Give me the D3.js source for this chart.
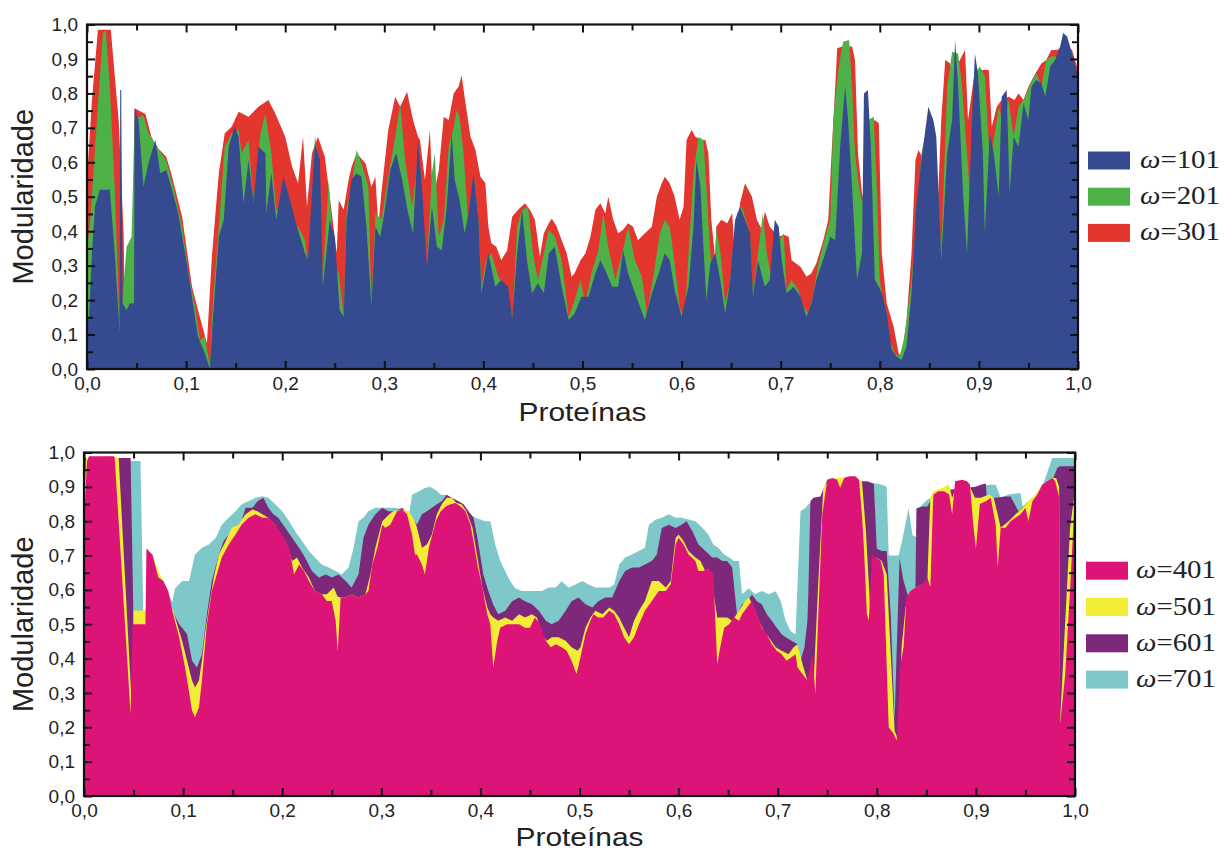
<!DOCTYPE html>
<html>
<head>
<meta charset="utf-8">
<script src="https://cdn.jsdelivr.net/npm/d3@7"></script>
<style>
  body { margin: 0; background: #fff; }
</style>
</head>
<body>
<svg id="chart" width="1225" height="852"></svg>
<script>
// axis ticks
const majorTicks = [0, 0.1, 0.2, 0.3, 0.4, 0.5, 0.6, 0.7, 0.8, 0.9, 1.0];
const minorTicks = [0.05, 0.15, 0.25, 0.35, 0.45, 0.55, 0.65, 0.75, 0.85, 0.95];

// top panel: [protein fraction, modularity]
const w101 = [[0,0.15],[0.002,0.142],[0.005,0.336],[0.008,0.471],[0.013,0.52],[0.023,0.52],[0.028,0.336],[0.033,0.104],[0.0335,0.81],[0.0345,0.81],[0.036,0.19],[0.04,0.171],[0.043,0.19],[0.0475,0.19],[0.048,0.757],[0.052,0.723],[0.057,0.529],[0.062,0.597],[0.069,0.665],[0.074,0.568],[0.08,0.578],[0.085,0.529],[0.092,0.452],[0.099,0.336],[0.106,0.21],[0.112,0.094],[0.119,0.045],[0.124,0],[0.127,0.142],[0.133,0.384],[0.138,0.433],[0.143,0.645],[0.149,0.703],[0.153,0.674],[0.158,0.481],[0.163,0.607],[0.168,0.481],[0.173,0.645],[0.18,0.626],[0.181,0.452],[0.186,0.568],[0.191,0.433],[0.198,0.558],[0.203,0.51],[0.21,0.433],[0.215,0.384],[0.22,0.336],[0.223,0.316],[0.23,0.655],[0.235,0.607],[0.238,0.239],[0.245,0.433],[0.25,0.384],[0.255,0.171],[0.259,0.152],[0.262,0.433],[0.267,0.549],[0.272,0.568],[0.277,0.558],[0.282,0.413],[0.287,0.181],[0.291,0.413],[0.296,0.384],[0.301,0.471],[0.306,0.578],[0.312,0.626],[0.318,0.549],[0.324,0.452],[0.329,0.394],[0.334,0.665],[0.338,0.529],[0.343,0.297],[0.348,0.471],[0.353,0.355],[0.358,0.345],[0.363,0.471],[0.368,0.684],[0.371,0.549],[0.376,0.49],[0.381,0.394],[0.385,0.452],[0.39,0.568],[0.395,0.433],[0.398,0.22],[0.405,0.336],[0.412,0.239],[0.418,0.258],[0.425,0.239],[0.429,0.142],[0.434,0.336],[0.439,0.462],[0.444,0.316],[0.449,0.22],[0.455,0.249],[0.461,0.22],[0.466,0.336],[0.472,0.355],[0.479,0.239],[0.486,0.142],[0.492,0.161],[0.499,0.21],[0.506,0.21],[0.513,0.278],[0.518,0.316],[0.523,0.287],[0.53,0.239],[0.536,0.239],[0.541,0.345],[0.546,0.278],[0.553,0.22],[0.563,0.142],[0.57,0.22],[0.577,0.278],[0.583,0.336],[0.588,0.316],[0.593,0.229],[0.6,0.152],[0.607,0.239],[0.612,0.413],[0.615,0.607],[0.619,0.529],[0.622,0.355],[0.625,0.2],[0.629,0.307],[0.634,0.336],[0.639,0.258],[0.644,0.161],[0.649,0.258],[0.654,0.433],[0.659,0.471],[0.664,0.433],[0.669,0.394],[0.672,0.21],[0.677,0.316],[0.684,0.239],[0.689,0.258],[0.694,0.433],[0.698,0.413],[0.701,0.316],[0.706,0.22],[0.713,0.239],[0.72,0.21],[0.726,0.152],[0.731,0.19],[0.736,0.258],[0.745,0.336],[0.75,0.384],[0.755,0.374],[0.76,0.645],[0.765,0.82],[0.768,0.723],[0.772,0.529],[0.777,0.258],[0.782,0.336],[0.784,0.8],[0.788,0.81],[0.791,0.645],[0.795,0.258],[0.799,0.239],[0.802,0.22],[0.807,0.161],[0.812,0.055],[0.817,0.036],[0.822,0.026],[0.827,0.065],[0.832,0.22],[0.837,0.481],[0.842,0.607],[0.849,0.761],[0.854,0.723],[0.857,0.674],[0.862,0.316],[0.868,0.626],[0.873,0.723],[0.876,0.955],[0.879,0.82],[0.884,0.51],[0.888,0.336],[0.893,0.723],[0.896,0.916],[0.899,0.858],[0.904,0.626],[0.906,0.394],[0.911,0.684],[0.915,0.626],[0.92,0.5],[0.923,0.79],[0.928,0.81],[0.931,0.51],[0.935,0.674],[0.94,0.645],[0.945,0.771],[0.95,0.723],[0.953,0.82],[0.958,0.839],[0.963,0.829],[0.967,0.79],[0.972,0.878],[0.977,0.897],[0.982,0.936],[0.985,0.975],[0.989,0.965],[0.994,0.916],[1,0.85]];

const w201 = [[0,0.35],[0.003,0.42],[0.01,0.723],[0.016,0.974],[0.019,0.984],[0.023,0.819],[0.028,0.529],[0.033,0.113],[0.034,0.142],[0.04,0.355],[0.045,0.384],[0.048,0.72],[0.053,0.732],[0.057,0.736],[0.062,0.684],[0.069,0.655],[0.075,0.626],[0.08,0.607],[0.087,0.529],[0.096,0.413],[0.102,0.287],[0.109,0.181],[0.114,0.084],[0.119,0.094],[0.124,0.007],[0.127,0.19],[0.133,0.413],[0.139,0.645],[0.146,0.684],[0.153,0.694],[0.156,0.626],[0.163,0.665],[0.168,0.48],[0.175,0.684],[0.18,0.742],[0.186,0.626],[0.191,0.462],[0.198,0.462],[0.203,0.433],[0.213,0.413],[0.22,0.374],[0.225,0.258],[0.23,0.68],[0.233,0.607],[0.238,0.268],[0.244,0.549],[0.249,0.307],[0.254,0.278],[0.259,0.152],[0.262,0.462],[0.267,0.529],[0.272,0.636],[0.277,0.597],[0.284,0.529],[0.287,0.181],[0.291,0.452],[0.297,0.433],[0.304,0.558],[0.311,0.674],[0.316,0.771],[0.321,0.607],[0.328,0.471],[0.334,0.607],[0.336,0.597],[0.341,0.336],[0.343,0.297],[0.348,0.568],[0.351,0.626],[0.355,0.384],[0.36,0.433],[0.365,0.645],[0.37,0.703],[0.373,0.752],[0.376,0.732],[0.38,0.626],[0.385,0.413],[0.39,0.568],[0.395,0.433],[0.398,0.239],[0.403,0.316],[0.408,0.336],[0.415,0.268],[0.422,0.239],[0.429,0.133],[0.434,0.413],[0.439,0.462],[0.445,0.471],[0.45,0.336],[0.455,0.258],[0.461,0.336],[0.466,0.404],[0.472,0.384],[0.479,0.316],[0.486,0.152],[0.491,0.19],[0.498,0.258],[0.503,0.19],[0.509,0.278],[0.516,0.345],[0.521,0.452],[0.526,0.355],[0.533,0.258],[0.54,0.336],[0.546,0.413],[0.553,0.316],[0.56,0.268],[0.565,0.161],[0.572,0.278],[0.578,0.394],[0.583,0.433],[0.588,0.413],[0.593,0.307],[0.598,0.181],[0.603,0.142],[0.607,0.336],[0.612,0.568],[0.617,0.674],[0.622,0.665],[0.625,0.529],[0.629,0.336],[0.632,0.239],[0.635,0.404],[0.639,0.345],[0.644,0.19],[0.649,0.258],[0.656,0.452],[0.661,0.471],[0.667,0.413],[0.669,0.384],[0.672,0.22],[0.677,0.336],[0.682,0.452],[0.686,0.336],[0.691,0.258],[0.696,0.394],[0.699,0.374],[0.703,0.394],[0.706,0.229],[0.711,0.258],[0.718,0.229],[0.723,0.181],[0.728,0.161],[0.733,0.22],[0.738,0.307],[0.745,0.384],[0.75,0.433],[0.753,0.723],[0.758,0.868],[0.763,0.95],[0.769,0.955],[0.772,0.82],[0.775,0.626],[0.778,0.549],[0.782,0.481],[0.785,0.539],[0.788,0.723],[0.794,0.732],[0.797,0.529],[0.8,0.258],[0.805,0.161],[0.81,0.084],[0.815,0.045],[0.82,0.036],[0.825,0.094],[0.832,0.258],[0.837,0.433],[0.842,0.626],[0.847,0.694],[0.852,0.713],[0.857,0.607],[0.862,0.336],[0.868,0.82],[0.873,0.921],[0.879,0.916],[0.883,0.82],[0.888,0.626],[0.893,0.413],[0.896,0.858],[0.901,0.878],[0.906,0.849],[0.911,0.607],[0.915,0.665],[0.92,0.761],[0.925,0.703],[0.93,0.781],[0.935,0.674],[0.94,0.761],[0.947,0.79],[0.952,0.829],[0.958,0.858],[0.963,0.82],[0.968,0.897],[0.973,0.907],[0.979,0.907],[0.984,0.916],[0.99,0.936],[0.995,0.878],[1,0.858]];

const w301 = [[0,0.55],[0.005,0.78],[0.011,0.985],[0.024,0.985],[0.032,0.72],[0.037,0.39],[0.038,0.18],[0.045,0.19],[0.046,0.44],[0.0475,0.44],[0.048,0.757],[0.059,0.74],[0.065,0.674],[0.07,0.645],[0.08,0.616],[0.085,0.568],[0.096,0.442],[0.106,0.239],[0.112,0.171],[0.121,0.075],[0.126,0.326],[0.133,0.568],[0.139,0.684],[0.146,0.703],[0.153,0.747],[0.163,0.732],[0.173,0.761],[0.183,0.781],[0.19,0.742],[0.2,0.674],[0.207,0.587],[0.213,0.539],[0.218,0.674],[0.222,0.471],[0.227,0.626],[0.233,0.674],[0.24,0.616],[0.245,0.5],[0.252,0.336],[0.254,0.49],[0.259,0.462],[0.264,0.549],[0.267,0.587],[0.272,0.626],[0.281,0.597],[0.287,0.529],[0.291,0.558],[0.294,0.413],[0.297,0.51],[0.304,0.694],[0.311,0.79],[0.316,0.761],[0.323,0.805],[0.329,0.723],[0.334,0.674],[0.336,0.665],[0.341,0.549],[0.346,0.694],[0.349,0.49],[0.355,0.578],[0.36,0.732],[0.365,0.723],[0.37,0.8],[0.375,0.82],[0.378,0.853],[0.381,0.79],[0.387,0.674],[0.392,0.636],[0.397,0.558],[0.402,0.539],[0.405,0.413],[0.408,0.365],[0.413,0.355],[0.418,0.316],[0.424,0.345],[0.429,0.442],[0.435,0.462],[0.442,0.481],[0.447,0.462],[0.452,0.433],[0.457,0.326],[0.461,0.394],[0.466,0.423],[0.469,0.437],[0.474,0.413],[0.479,0.374],[0.484,0.336],[0.489,0.268],[0.492,0.278],[0.498,0.316],[0.503,0.336],[0.508,0.384],[0.513,0.462],[0.518,0.481],[0.523,0.452],[0.526,0.5],[0.531,0.433],[0.536,0.394],[0.541,0.404],[0.546,0.423],[0.551,0.413],[0.556,0.374],[0.563,0.394],[0.57,0.413],[0.575,0.5],[0.58,0.539],[0.583,0.558],[0.588,0.539],[0.593,0.5],[0.598,0.433],[0.602,0.471],[0.605,0.665],[0.61,0.694],[0.614,0.674],[0.619,0.665],[0.624,0.665],[0.627,0.626],[0.63,0.433],[0.634,0.316],[0.635,0.413],[0.64,0.433],[0.646,0.423],[0.651,0.452],[0.654,0.316],[0.659,0.481],[0.664,0.539],[0.671,0.5],[0.676,0.433],[0.681,0.404],[0.684,0.457],[0.689,0.413],[0.698,0.384],[0.703,0.39],[0.708,0.384],[0.711,0.316],[0.72,0.297],[0.726,0.268],[0.731,0.278],[0.736,0.307],[0.743,0.374],[0.748,0.433],[0.751,0.607],[0.755,0.82],[0.757,0.931],[0.762,0.936],[0.772,0.936],[0.775,0.897],[0.778,0.626],[0.782,0.51],[0.785,0.471],[0.79,0.703],[0.795,0.723],[0.799,0.713],[0.802,0.336],[0.807,0.19],[0.814,0.123],[0.819,0.045],[0.822,0.036],[0.827,0.142],[0.832,0.336],[0.836,0.607],[0.839,0.636],[0.846,0.597],[0.852,0.549],[0.859,0.51],[0.862,0.723],[0.866,0.897],[0.871,0.887],[0.876,0.742],[0.879,0.887],[0.886,0.926],[0.889,0.723],[0.896,0.868],[0.903,0.868],[0.91,0.868],[0.913,0.703],[0.918,0.761],[0.923,0.781],[0.93,0.79],[0.936,0.781],[0.94,0.8],[0.945,0.781],[0.95,0.82],[0.957,0.858],[0.963,0.887],[0.968,0.897],[0.973,0.926],[0.979,0.926],[0.984,0.936],[0.989,0.936],[0.994,0.926],[1,0.868]];

// bottom panel
const w401 = [[0,0.8],[0.003,0.974],[0.005,0.989],[0.03,0.989],[0.031,0.984],[0.047,0.239],[0.049,0.5],[0.062,0.5],[0.063,0.72],[0.069,0.703],[0.075,0.636],[0.08,0.626],[0.085,0.597],[0.09,0.529],[0.096,0.462],[0.102,0.374],[0.109,0.249],[0.112,0.229],[0.116,0.258],[0.119,0.336],[0.124,0.5],[0.129,0.597],[0.134,0.645],[0.139,0.694],[0.146,0.732],[0.153,0.761],[0.159,0.79],[0.166,0.81],[0.173,0.82],[0.18,0.81],[0.186,0.81],[0.193,0.79],[0.2,0.761],[0.207,0.723],[0.212,0.645],[0.217,0.674],[0.222,0.655],[0.227,0.626],[0.233,0.597],[0.24,0.587],[0.245,0.568],[0.25,0.568],[0.254,0.51],[0.256,0.42],[0.259,0.578],[0.264,0.578],[0.27,0.587],[0.277,0.578],[0.284,0.587],[0.287,0.597],[0.291,0.674],[0.296,0.723],[0.301,0.79],[0.304,0.781],[0.309,0.79],[0.316,0.829],[0.321,0.834],[0.326,0.82],[0.331,0.761],[0.334,0.703],[0.336,0.703],[0.341,0.674],[0.344,0.645],[0.348,0.723],[0.355,0.8],[0.36,0.829],[0.365,0.843],[0.37,0.849],[0.375,0.853],[0.38,0.843],[0.385,0.829],[0.39,0.79],[0.393,0.742],[0.397,0.674],[0.402,0.607],[0.407,0.529],[0.41,0.5],[0.413,0.374],[0.417,0.452],[0.42,0.49],[0.427,0.5],[0.432,0.5],[0.439,0.5],[0.445,0.49],[0.45,0.49],[0.455,0.52],[0.46,0.5],[0.466,0.452],[0.471,0.433],[0.476,0.442],[0.482,0.433],[0.487,0.423],[0.492,0.394],[0.497,0.355],[0.501,0.404],[0.506,0.471],[0.511,0.51],[0.514,0.529],[0.519,0.52],[0.524,0.52],[0.53,0.539],[0.535,0.529],[0.54,0.5],[0.545,0.462],[0.55,0.442],[0.555,0.462],[0.56,0.5],[0.566,0.539],[0.573,0.568],[0.58,0.597],[0.587,0.597],[0.592,0.616],[0.597,0.732],[0.6,0.752],[0.605,0.732],[0.61,0.703],[0.617,0.684],[0.62,0.655],[0.625,0.655],[0.63,0.665],[0.635,0.645],[0.639,0.384],[0.642,0.433],[0.646,0.49],[0.651,0.5],[0.656,0.52],[0.661,0.51],[0.664,0.529],[0.669,0.549],[0.674,0.568],[0.679,0.529],[0.684,0.49],[0.689,0.471],[0.694,0.442],[0.699,0.423],[0.704,0.413],[0.709,0.394],[0.714,0.404],[0.718,0.413],[0.72,0.374],[0.725,0.355],[0.73,0.336],[0.735,0.413],[0.738,0.297],[0.741,0.529],[0.745,0.82],[0.75,0.921],[0.755,0.926],[0.76,0.921],[0.763,0.897],[0.767,0.926],[0.772,0.931],[0.778,0.931],[0.782,0.921],[0.785,0.82],[0.787,0.723],[0.79,0.529],[0.792,0.51],[0.795,0.703],[0.799,0.694],[0.804,0.684],[0.807,0.645],[0.812,0.2],[0.817,0.181],[0.82,0.161],[0.824,0.384],[0.827,0.433],[0.83,0.578],[0.834,0.597],[0.839,0.607],[0.846,0.616],[0.851,0.636],[0.854,0.607],[0.857,0.877],[0.862,0.887],[0.868,0.887],[0.873,0.878],[0.876,0.82],[0.879,0.916],[0.886,0.921],[0.891,0.916],[0.894,0.907],[0.897,0.8],[0.9,0.72],[0.904,0.85],[0.91,0.858],[0.915,0.868],[0.92,0.79],[0.922,0.665],[0.925,0.781],[0.93,0.781],[0.935,0.8],[0.94,0.81],[0.945,0.82],[0.95,0.839],[0.953,0.8],[0.957,0.858],[0.962,0.878],[0.967,0.907],[0.972,0.916],[0.977,0.926],[0.98,0.916],[0.984,0.87],[0.985,0.21],[0.99,0.35],[0.995,0.6],[1,0.88]];

const w501 = [[0,0.8],[0.002,0.984],[0.03,0.989],[0.035,0.984],[0.049,0.22],[0.05,0.54],[0.063,0.54],[0.064,0.72],[0.07,0.694],[0.075,0.655],[0.082,0.616],[0.089,0.549],[0.094,0.5],[0.099,0.452],[0.104,0.394],[0.109,0.336],[0.112,0.316],[0.116,0.336],[0.119,0.394],[0.122,0.471],[0.126,0.549],[0.131,0.636],[0.136,0.703],[0.143,0.742],[0.149,0.781],[0.156,0.79],[0.163,0.82],[0.17,0.834],[0.175,0.829],[0.18,0.82],[0.186,0.81],[0.193,0.79],[0.2,0.752],[0.205,0.732],[0.21,0.684],[0.215,0.694],[0.22,0.665],[0.227,0.636],[0.233,0.597],[0.24,0.587],[0.245,0.587],[0.252,0.607],[0.256,0.58],[0.259,0.578],[0.264,0.578],[0.27,0.587],[0.277,0.578],[0.284,0.587],[0.289,0.645],[0.294,0.723],[0.301,0.8],[0.308,0.82],[0.312,0.829],[0.321,0.834],[0.328,0.829],[0.334,0.8],[0.336,0.781],[0.341,0.723],[0.346,0.732],[0.351,0.761],[0.356,0.82],[0.361,0.849],[0.366,0.868],[0.371,0.868],[0.376,0.853],[0.381,0.849],[0.386,0.829],[0.392,0.781],[0.397,0.694],[0.402,0.607],[0.407,0.549],[0.41,0.529],[0.413,0.52],[0.418,0.51],[0.425,0.52],[0.432,0.51],[0.439,0.529],[0.445,0.52],[0.452,0.529],[0.457,0.52],[0.462,0.471],[0.467,0.452],[0.472,0.462],[0.479,0.462],[0.486,0.452],[0.492,0.433],[0.498,0.423],[0.501,0.433],[0.506,0.49],[0.511,0.52],[0.516,0.539],[0.523,0.529],[0.53,0.549],[0.535,0.539],[0.54,0.52],[0.545,0.49],[0.55,0.462],[0.555,0.51],[0.56,0.539],[0.566,0.568],[0.573,0.626],[0.58,0.626],[0.587,0.607],[0.592,0.626],[0.597,0.752],[0.6,0.761],[0.605,0.742],[0.61,0.713],[0.617,0.694],[0.622,0.684],[0.627,0.655],[0.632,0.645],[0.635,0.596],[0.639,0.52],[0.644,0.52],[0.649,0.52],[0.654,0.51],[0.661,0.539],[0.667,0.568],[0.671,0.578],[0.676,0.549],[0.681,0.51],[0.686,0.481],[0.691,0.462],[0.698,0.433],[0.704,0.423],[0.711,0.413],[0.716,0.433],[0.72,0.442],[0.725,0.384],[0.73,0.336],[0.736,0.316],[0.741,0.626],[0.746,0.897],[0.751,0.921],[0.76,0.926],[0.78,0.93],[0.782,0.921],[0.785,0.916],[0.789,0.771],[0.794,0.51],[0.799,0.694],[0.805,0.684],[0.81,0.645],[0.818,0.19],[0.822,0.161],[0.825,0.433],[0.829,0.549],[0.832,0.587],[0.839,0.607],[0.846,0.616],[0.851,0.626],[0.854,0.868],[0.857,0.887],[0.866,0.897],[0.873,0.907],[0.876,0.868],[0.881,0.907],[0.886,0.916],[0.893,0.907],[0.899,0.868],[0.905,0.868],[0.913,0.878],[0.918,0.868],[0.922,0.82],[0.925,0.781],[0.933,0.8],[0.94,0.82],[0.947,0.839],[0.953,0.858],[0.96,0.878],[0.967,0.907],[0.973,0.916],[0.977,0.926],[0.981,0.926],[0.984,0.9],[0.985,0.22],[0.99,0.5],[0.995,0.78],[1,0.89]];

const w601 = [[0,0.984],[0.047,0.984],[0.05,0.5],[0.063,0.5],[0.064,0.72],[0.08,0.616],[0.085,0.587],[0.09,0.535],[0.096,0.5],[0.099,0.49],[0.104,0.471],[0.109,0.394],[0.114,0.374],[0.119,0.413],[0.124,0.529],[0.129,0.626],[0.136,0.703],[0.141,0.742],[0.146,0.761],[0.153,0.771],[0.158,0.79],[0.163,0.839],[0.17,0.839],[0.175,0.858],[0.181,0.868],[0.186,0.839],[0.191,0.82],[0.196,0.81],[0.203,0.781],[0.21,0.752],[0.217,0.723],[0.223,0.694],[0.23,0.655],[0.237,0.636],[0.244,0.645],[0.25,0.636],[0.257,0.645],[0.264,0.626],[0.27,0.607],[0.277,0.645],[0.282,0.752],[0.287,0.79],[0.294,0.82],[0.301,0.839],[0.307,0.829],[0.314,0.829],[0.321,0.839],[0.328,0.82],[0.334,0.8],[0.336,0.79],[0.341,0.82],[0.346,0.829],[0.351,0.839],[0.356,0.849],[0.361,0.858],[0.366,0.877],[0.371,0.868],[0.378,0.858],[0.383,0.849],[0.388,0.829],[0.393,0.81],[0.397,0.752],[0.403,0.645],[0.408,0.597],[0.413,0.557],[0.418,0.529],[0.425,0.539],[0.432,0.567],[0.439,0.578],[0.445,0.567],[0.452,0.558],[0.459,0.539],[0.466,0.51],[0.472,0.5],[0.479,0.51],[0.486,0.539],[0.492,0.567],[0.499,0.578],[0.506,0.558],[0.513,0.549],[0.519,0.567],[0.526,0.578],[0.533,0.578],[0.54,0.625],[0.546,0.655],[0.553,0.665],[0.56,0.665],[0.566,0.674],[0.573,0.684],[0.578,0.703],[0.583,0.78],[0.59,0.79],[0.597,0.78],[0.603,0.79],[0.608,0.8],[0.614,0.771],[0.62,0.732],[0.627,0.713],[0.634,0.694],[0.639,0.694],[0.644,0.684],[0.649,0.684],[0.654,0.665],[0.659,0.528],[0.664,0.558],[0.669,0.567],[0.674,0.586],[0.679,0.567],[0.684,0.558],[0.689,0.529],[0.694,0.51],[0.699,0.49],[0.704,0.471],[0.708,0.462],[0.714,0.452],[0.72,0.442],[0.723,0.394],[0.727,0.433],[0.73,0.51],[0.731,0.6],[0.733,0.858],[0.736,0.868],[0.743,0.872],[0.75,0.921],[0.785,0.916],[0.79,0.916],[0.797,0.91],[0.8,0.72],[0.805,0.713],[0.81,0.713],[0.814,0.529],[0.818,0.22],[0.82,0.42],[0.823,0.692],[0.827,0.626],[0.832,0.578],[0.839,0.605],[0.84,0.838],[0.846,0.843],[0.851,0.843],[0.856,0.868],[0.86,0.887],[0.9,0.9],[0.905,0.906],[0.91,0.91],[0.911,0.868],[0.92,0.868],[0.93,0.872],[0.935,0.872],[0.943,0.829],[0.95,0.849],[0.957,0.868],[0.963,0.878],[0.97,0.897],[0.977,0.916],[0.982,0.955],[0.985,0.96],[1,0.96]];

const w701 = [[0,0.975],[0.057,0.975],[0.06,0.5],[0.063,0.5],[0.064,0.72],[0.08,0.62],[0.089,0.565],[0.092,0.605],[0.099,0.626],[0.106,0.626],[0.112,0.703],[0.119,0.723],[0.126,0.732],[0.133,0.752],[0.139,0.79],[0.146,0.81],[0.153,0.829],[0.159,0.849],[0.166,0.858],[0.173,0.868],[0.18,0.873],[0.186,0.868],[0.193,0.849],[0.2,0.829],[0.207,0.8],[0.213,0.771],[0.22,0.742],[0.227,0.713],[0.233,0.694],[0.24,0.674],[0.247,0.665],[0.254,0.655],[0.26,0.645],[0.267,0.665],[0.272,0.723],[0.277,0.8],[0.282,0.81],[0.287,0.829],[0.294,0.839],[0.301,0.839],[0.307,0.839],[0.314,0.839],[0.321,0.834],[0.328,0.82],[0.331,0.877],[0.338,0.887],[0.344,0.897],[0.349,0.9],[0.355,0.891],[0.36,0.877],[0.365,0.877],[0.37,0.858],[0.375,0.853],[0.38,0.843],[0.385,0.829],[0.39,0.82],[0.395,0.81],[0.4,0.805],[0.405,0.8],[0.41,0.8],[0.415,0.732],[0.42,0.684],[0.425,0.655],[0.43,0.626],[0.435,0.605],[0.442,0.597],[0.449,0.597],[0.455,0.597],[0.462,0.597],[0.469,0.607],[0.476,0.607],[0.482,0.625],[0.489,0.607],[0.496,0.616],[0.503,0.626],[0.509,0.616],[0.516,0.607],[0.523,0.607],[0.53,0.607],[0.535,0.616],[0.54,0.673],[0.546,0.694],[0.553,0.703],[0.56,0.713],[0.566,0.723],[0.57,0.79],[0.577,0.805],[0.583,0.81],[0.59,0.82],[0.597,0.81],[0.603,0.81],[0.61,0.805],[0.617,0.8],[0.624,0.781],[0.63,0.761],[0.635,0.732],[0.64,0.723],[0.646,0.703],[0.651,0.694],[0.656,0.684],[0.661,0.684],[0.664,0.587],[0.671,0.605],[0.677,0.587],[0.684,0.597],[0.691,0.587],[0.698,0.596],[0.703,0.568],[0.708,0.51],[0.713,0.48],[0.718,0.47],[0.723,0.829],[0.728,0.839],[0.731,0.849],[0.736,0.858],[0.743,0.868],[0.75,0.9],[0.8,0.91],[0.805,0.906],[0.81,0.9],[0.812,0.7],[0.822,0.7],[0.826,0.75],[0.832,0.838],[0.836,0.76],[0.842,0.75],[0.843,0.84],[0.85,0.86],[0.86,0.88],[0.9,0.9],[0.913,0.906],[0.92,0.906],[0.925,0.868],[0.933,0.878],[0.945,0.882],[0.948,0.829],[0.953,0.849],[0.96,0.868],[0.967,0.9],[0.977,0.984],[1,0.984]];

const topSeries = [
  { label: "101", color: "#354a8f", values: w101 },
  { label: "201", color: "#4eb148", values: w201 },
  { label: "301", color: "#e2362f", values: w301 }
];
const bottomSeries = [
  { label: "401", color: "#dd1478", values: w401 },
  { label: "501", color: "#f2ec37", values: w501 },
  { label: "601", color: "#7d287b", values: w601 },
  { label: "701", color: "#7fc8ca", values: w701 }
];

const svg = d3.select("#chart");
const sans = "'Liberation Sans', Arial, sans-serif";
const fmt = d => d3.format(".1f")(d).replace(".", ",");

function drawPanel(id, box, series, legend) {
  const g = svg.append("g");
  const x = d3.scaleLinear().domain([0, 1]).range([box.l, box.r]);
  const y = d3.scaleLinear().domain([0, 1]).range([box.b, box.t]);

  g.append("clipPath").attr("id", id)
    .append("rect")
    .attr("x", box.l).attr("y", box.t)
    .attr("width", box.r - box.l).attr("height", box.b - box.t);

  const area = d3.area()
    .x(d => x(d[0]))
    .y0(y(0))
    .y1(d => y(d[1]));

  // back to front: largest window first
  g.append("g").attr("clip-path", "url(#" + id + ")")
    .selectAll("path")
    .data(series.slice().reverse())
    .join("path")
    .attr("d", s => area(s.values))
    .attr("fill", s => s.color);

  function axis(gen, tr, vals, size, pad, labels) {
    const a = g.append("g").attr("transform", tr)
      .call(gen.tickValues(vals).tickSize(-size).tickPadding(pad).tickFormat(labels ? fmt : ""));
    a.select(".domain").remove();
    a.attr("font-family", sans).attr("font-size", 19);
    a.selectAll("line").attr("stroke", "#111").attr("stroke-width", 2);
    a.selectAll("text").attr("fill", "#222");
  }

  axis(d3.axisBottom(x), `translate(0,${box.b})`, majorTicks, 8, 8, true);
  axis(d3.axisBottom(x), `translate(0,${box.b})`, minorTicks, 6, 8, false);
  axis(d3.axisTop(x), `translate(0,${box.t})`, majorTicks, 8, 0, false);
  axis(d3.axisTop(x), `translate(0,${box.t})`, minorTicks, 6, 0, false);
  axis(d3.axisLeft(y), `translate(${box.l},0)`, majorTicks, 8, 9, true);
  axis(d3.axisLeft(y), `translate(${box.l},0)`, minorTicks, 6, 9, false);
  axis(d3.axisRight(y), `translate(${box.r},0)`, majorTicks, 8, 0, false);
  axis(d3.axisRight(y), `translate(${box.r},0)`, minorTicks, 6, 0, false);

  g.append("rect")
    .attr("x", box.l).attr("y", box.t)
    .attr("width", box.r - box.l).attr("height", box.b - box.t)
    .attr("fill", "none").attr("stroke", "#111").attr("stroke-width", 2.2);

  g.append("text")
    .attr("transform", `translate(33,${(box.t + box.b) / 2}) rotate(-90)`)
    .attr("text-anchor", "middle")
    .attr("font-family", sans).attr("font-size", 29).attr("fill", "#222")
    .text("Modularidade");

  g.append("text")
    .attr("x", (box.l + box.r) / 2).attr("y", box.xTitle)
    .attr("text-anchor", "middle")
    .attr("font-family", sans).attr("font-size", 26).attr("fill", "#222")
    .attr("textLength", 128).attr("lengthAdjust", "spacingAndGlyphs")
    .text("Proteínas");

  const items = g.selectAll(".leg")
    .data(series)
    .join("g")
    .attr("transform", (d, i) => `translate(${legend.x},${legend.y + i * legend.step})`);
  items.append("rect")
    .attr("width", 42).attr("height", 18)
    .attr("fill", d => d.color);
  const t = items.append("text")
    .attr("x", legend.tx - legend.x).attr("y", 16.5)
    .attr("font-family", "'Liberation Serif', 'Times New Roman', serif")
    .attr("font-size", 25).attr("fill", "#222")
    .attr("textLength", 80).attr("lengthAdjust", "spacingAndGlyphs");
  t.append("tspan").attr("font-style", "italic").text("ω");
  t.append("tspan").text(d => "=" + d.label);
}

drawPanel("clipTop", { l: 87, r: 1078, t: 24.5, b: 369, xTitle: 421 }, topSeries,
  { x: 1088, y: 151.5, step: 36.2, tx: 1140 });
drawPanel("clipBottom", { l: 84, r: 1075, t: 452.5, b: 796, xTitle: 846 }, bottomSeries,
  { x: 1086, y: 561.7, step: 36.3, tx: 1136 });
</script>
</body>
</html>
